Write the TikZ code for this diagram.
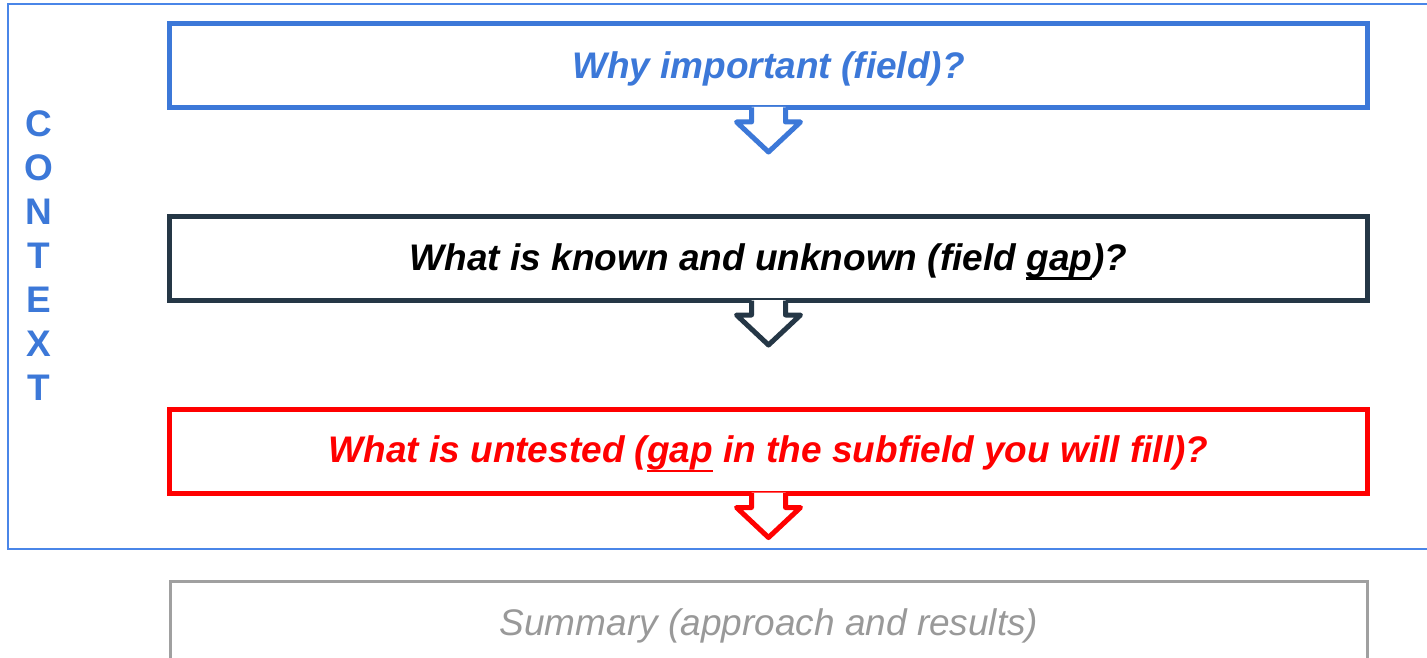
\documentclass[tikz,border=0pt]{standalone}
\usepackage{fontspec}
\setmainfont{Liberation Sans}
\usetikzlibrary{calc}
\definecolor{cblue}{HTML}{3C78D8}
\definecolor{cframe}{HTML}{4A86E8}
\definecolor{cdark}{HTML}{253746}
\definecolor{cred}{HTML}{FF0000}
\definecolor{cgraybox}{HTML}{A0A0A0}
\definecolor{cgraytext}{HTML}{999999}
\newcommand\gapul[1]{\setbox0\hbox{#1}\rlap{\rule[-\dimexpr\dp0+2pt\relax]{\wd0}{2.5pt}}\box0\relax}
\newcommand\lowered[1]{\raisebox{-3pt}[\height][\depth]{#1}}
\newcommand\flowarrow[2]{%
  \fill[white] ($(#1.south)+(-17,-3)$) -- ++(0,15) -- ++(-15,0) -- ++(32,30) -- ++(32,-30) -- ++(-15,0) -- ++(0,-15) -- cycle;
  \draw[#2, line width=5pt, line join=round] ($(#1.south)+(-17,-2.5)$) -- ++(0,14.5) -- ++(-15,0) -- ++(32,30) -- ++(32,-30) -- ++(-15,0) -- ++(0,-14.5);
}
\tikzset{
  qbox/.style={draw, line width=5pt, fill=white, minimum width=1198pt, minimum height=84pt, inner sep=0pt,
    font=\fontsize{37}{44}\selectfont\bfseries\itshape},
}
\begin{document}
\begin{tikzpicture}[x=1pt,y=-1pt]
\useasboundingbox (0,0) rectangle (1427,658);
\fill[white] (0,0) rectangle (1427,658);
% context frame
\draw[cframe, line width=2pt] (1440,4.5) -- (8,4.5) -- (8,548.5) -- (1440,548.5);
% summary box
\node[draw=cgraybox, line width=2.5pt, minimum width=1197pt, minimum height=120pt, anchor=north, inner sep=0pt] (sum) at (769,580) {};
\node[text=cgraytext, font=\fontsize{37}{44}\selectfont\itshape] (sumt) at (769,626) {Summary (approach and results)};
% question boxes
\node[qbox, draw=cblue, text=cblue] (b1) at (768.5,65.5) {\lowered{Why important (field)?}};
\node[qbox, draw=cdark, text=black] (b2) at (768.5,258.5) {\lowered{What is known and unknown (field \gapul{gap})?}};
\node[qbox, draw=cred, text=cred] (b3) at (768.5,451) {\lowered{What is untested (\gapul{gap} in the subfield you will fill)?}};
\flowarrow{b1}{cblue}
\flowarrow{b2}{cdark}
\flowarrow{b3}{cred}
% context label
\node[text=cblue, align=center, inner sep=0pt, font=\fontsize{37}{44}\selectfont\bfseries] (ctx) at (38.5,256) {C\\O\\N\\T\\E\\X\\T};
\end{tikzpicture}
\end{document}
